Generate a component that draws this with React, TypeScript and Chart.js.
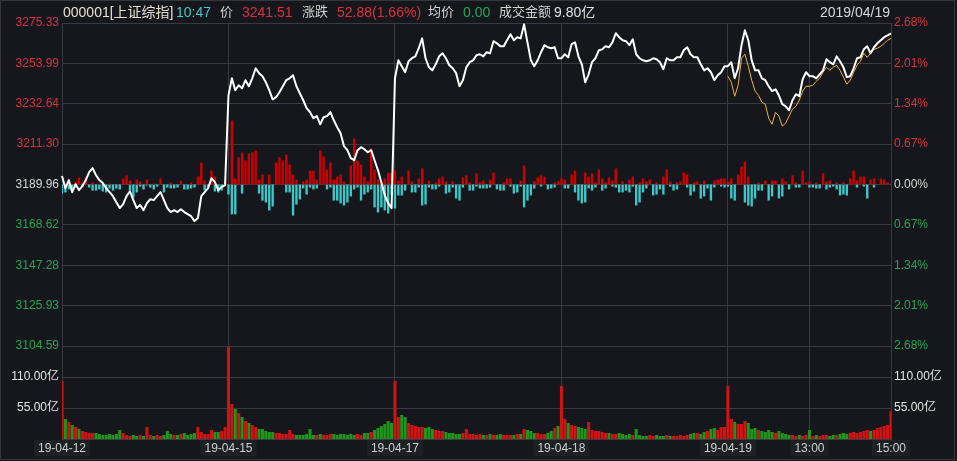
import React, { useEffect, useRef } from "react";
import { Chart, registerables } from "chart.js";

Chart.register(...registerables);

const PREV_CLOSE = 3189.96;
const DAYS = ["19-04-12", "19-04-15", "19-04-17", "19-04-18", "19-04-19"];

const priceTicks = [3104.59, 3125.93, 3147.28, 3168.62, 3189.96, 3211.3, 3232.64, 3253.99, 3275.33];
const volumeTicks = [55, 110];
const VOLUME_MAX = 165;
const xTickIndex = [0, 49, 98, 147, 196, 220, 244];
const xTickLabels = ["19-04-12", "19-04-15", "19-04-17", "19-04-18", "19-04-19", "13:00", "15:00"];

// index price, 5-minute samples (49 per day)
const price0412 = [3194.4, 3188.0, 3192.3, 3185.9, 3190.1, 3187.0, 3189.1, 3192.3, 3196.5, 3198.6, 3194.9, 3192.3, 3190.7, 3188.0, 3185.9, 3183.8, 3180.6, 3177.5, 3179.6, 3183.8, 3186.4, 3181.7, 3177.5, 3179.1, 3176.4, 3180.1, 3182.2, 3181.7, 3183.8, 3185.9, 3181.7, 3177.5, 3175.4, 3176.4, 3175.4, 3176.9, 3175.4, 3174.3, 3173.2, 3170.6, 3172.2, 3183.8, 3185.9, 3188.0, 3193.3, 3191.2, 3187.0, 3188.6, 3189.6];
const price0415 = [3237.1, 3246.1, 3239.8, 3242.4, 3240.8, 3245.1, 3241.9, 3246.1, 3251.4, 3248.8, 3247.2, 3244.0, 3239.8, 3235.0, 3236.1, 3238.7, 3241.9, 3245.1, 3246.1, 3247.7, 3241.9, 3238.2, 3234.5, 3230.3, 3228.2, 3225.0, 3226.1, 3221.8, 3225.5, 3226.1, 3228.2, 3223.9, 3220.2, 3217.1, 3210.2, 3208.1, 3203.9, 3202.8, 3208.1, 3209.7, 3208.6, 3207.0, 3208.1, 3202.8, 3197.5, 3191.2, 3184.3, 3180.1, 3177.5];
const price0417 = [3246.1, 3255.6, 3252.5, 3249.3, 3255.1, 3256.7, 3257.7, 3262.0, 3267.2, 3256.7, 3251.9, 3250.3, 3253.5, 3257.7, 3259.3, 3256.7, 3253.0, 3251.4, 3248.8, 3241.9, 3245.1, 3251.9, 3254.6, 3255.6, 3258.3, 3258.8, 3257.7, 3259.9, 3259.3, 3265.7, 3264.6, 3263.0, 3263.0, 3266.2, 3269.4, 3266.2, 3267.8, 3267.2, 3274.6, 3265.1, 3255.6, 3252.5, 3255.6, 3259.9, 3263.6, 3262.5, 3262.0, 3262.5, 3256.7];
const price0418 = [3256.7, 3258.8, 3257.2, 3264.1, 3265.1, 3257.7, 3253.5, 3244.0, 3248.2, 3254.6, 3256.7, 3260.9, 3261.4, 3263.0, 3262.5, 3265.1, 3269.9, 3267.8, 3266.2, 3265.7, 3263.6, 3266.7, 3258.8, 3256.7, 3255.6, 3255.1, 3255.6, 3256.7, 3256.2, 3254.6, 3250.9, 3256.7, 3255.6, 3255.6, 3257.2, 3257.2, 3260.9, 3262.5, 3258.8, 3257.2, 3257.2, 3253.5, 3250.3, 3251.4, 3249.3, 3245.1, 3247.7, 3249.3, 3252.5];
const price0419 = [3252.5, 3254.6, 3246.1, 3251.4, 3263.6, 3271.5, 3266.2, 3255.6, 3250.3, 3250.3, 3246.1, 3245.1, 3241.9, 3239.3, 3240.3, 3237.1, 3232.4, 3231.3, 3229.2, 3234.5, 3237.7, 3236.6, 3245.6, 3249.3, 3247.2, 3247.2, 3246.1, 3248.2, 3250.3, 3256.2, 3254.6, 3253.5, 3257.7, 3255.1, 3251.9, 3246.7, 3247.2, 3251.4, 3256.7, 3257.2, 3261.4, 3263.0, 3259.3, 3262.5, 3264.6, 3266.2, 3267.8, 3268.8, 3269.9];
// yellow line on the last day
const avg0419 = [3247.2, 3244.0, 3236.6, 3242.4, 3256.7, 3258.8, 3252.5, 3245.1, 3239.3, 3237.1, 3233.4, 3232.4, 3225.0, 3221.8, 3228.2, 3226.1, 3220.8, 3222.4, 3226.1, 3229.8, 3231.3, 3234.5, 3239.3, 3241.9, 3241.9, 3242.4, 3244.5, 3246.1, 3249.3, 3251.9, 3250.3, 3251.9, 3253.0, 3250.3, 3246.7, 3243.0, 3245.1, 3249.3, 3253.0, 3255.1, 3259.3, 3257.2, 3259.3, 3261.4, 3262.0, 3263.0, 3264.6, 3266.2, 3267.2];

// turnover per minute (亿)
const volume0412 = [102.9, 35.5, 30.2, 24.8, 21.3, 17.7, 14.2, 12.4, 10.6, 10.6, 10.6, 8.9, 7.1, 7.1, 8.9, 7.1, 8.9, 16.0, 10.6, 7.1, 5.3, 7.1, 5.3, 7.1, 5.3, 21.3, 7.1, 5.3, 7.1, 5.3, 7.1, 14.2, 8.9, 7.1, 7.1, 8.9, 10.6, 7.1, 8.9, 10.6, 21.3, 12.4, 8.9, 8.9, 16.0, 12.4, 12.4, 14.2, 21.3];
const volume0415 = [163.2, 62.1, 53.2, 46.1, 39.0, 31.9, 28.4, 24.8, 21.3, 17.7, 17.7, 14.2, 12.4, 12.4, 10.6, 10.6, 8.9, 8.9, 16.0, 8.9, 7.1, 7.1, 7.1, 8.9, 17.7, 7.1, 7.1, 8.9, 7.1, 7.1, 8.9, 8.9, 7.1, 8.9, 8.9, 7.1, 8.9, 7.1, 8.9, 7.1, 10.6, 10.6, 12.4, 16.0, 19.5, 23.1, 26.6, 31.9, 28.4];
const volume0417 = [102.9, 39.0, 42.6, 39.0, 28.4, 24.8, 23.1, 21.3, 21.3, 19.5, 21.3, 17.7, 16.0, 14.2, 14.2, 12.4, 10.6, 10.6, 8.9, 8.9, 10.6, 17.7, 8.9, 8.9, 7.1, 8.9, 7.1, 7.1, 8.9, 7.1, 7.1, 8.9, 7.1, 7.1, 7.1, 7.1, 8.9, 8.9, 17.7, 16.0, 14.2, 10.6, 10.6, 8.9, 8.9, 10.6, 14.2, 19.5, 23.1];
const volume0418 = [94.0, 35.5, 28.4, 24.8, 23.1, 21.3, 19.5, 17.7, 30.2, 16.0, 14.2, 14.2, 12.4, 10.6, 10.6, 8.9, 8.9, 10.6, 8.9, 7.1, 8.9, 7.1, 17.7, 7.1, 5.3, 5.3, 7.1, 5.3, 7.1, 5.3, 5.3, 7.1, 5.3, 5.3, 5.3, 7.1, 5.3, 7.1, 8.9, 10.6, 10.6, 8.9, 12.4, 14.2, 17.7, 19.5, 16.0, 21.3, 21.3];
const volume0419 = [94.0, 35.5, 30.2, 26.6, 26.6, 31.9, 28.4, 17.7, 19.5, 16.0, 14.2, 12.4, 16.0, 12.4, 10.6, 14.2, 10.6, 8.9, 7.1, 7.1, 5.3, 7.1, 5.3, 7.1, 16.0, 5.3, 7.1, 5.3, 7.1, 7.1, 5.3, 7.1, 7.1, 8.9, 10.6, 8.9, 10.6, 12.4, 10.6, 12.4, 14.2, 16.0, 14.2, 16.0, 19.5, 21.3, 23.1, 24.8, 49.7];

// buying / selling strength around the previous close (index points)
const buyForce = [
  0, 0, 1.1, 0, 1.6, 3.7, 1.1, 3.7, 0, 1.1, 0, 0.5, 0, 0, 0.5, 0, 0, 0, 3.2, 4.8, 2.1, 0, 2.6, 1.6, 0, 2.6, 0, 0.5, 0, 3.2, 0, 0, 1.1, 0, 0, 2.1, 0, 0, 1.1, 0, 4.2, 11.6, 2.1, 0, 7.4, 4.2, 0, 0, 2.1,
  0, 33.8, 3.2, 14.3, 16.9, 12.7, 16.4, 16.9, 18.0, 2.6, 5.3, 0, 5.3, 0, 11.6, 14.3, 12.7, 15.8, 10.6, 5.3, 2.6, 0, 1.6, 2.6, 7.4, 7.4, 2.6, 18.0, 14.8, 7.9, 11.6, 2.6, 4.2, 5.3, 1.6, 0, 10.0, 24.3, 12.7, 10.6, 4.2, 1.6, 19.0, 7.9, 2.6, 1.6, 3.2, 6.3, 6.3,
  7.4, 2.1, 4.2, 0, 7.4, 1.6, 0, 3.2, 8.5, 0, 2.1, 0, 1.1, 3.2, 4.2, 1.6, 0, 1.6, 0, 0, 3.7, 4.8, 1.1, 0, 5.8, 1.1, 2.1, 0, 2.6, 6.3, 0, 0, 1.1, 3.2, 3.2, 0, 0, 2.1, 10.0, 0, 0, 1.6, 3.7, 4.8, 4.2, 0, 0, 1.1, 1.6,
  3.2, 2.6, 0, 5.3, 7.4, 0, 0, 6.3, 4.2, 5.8, 1.1, 7.9, 3.2, 1.1, 3.7, 2.1, 8.5, 0, 1.6, 0, 2.6, 4.2, 0, 1.1, 3.2, 1.6, 2.6, 0, 1.1, 0, 4.2, 7.9, 1.6, 0, 1.1, 1.6, 6.3, 5.3, 0, 1.1, 1.6, 0, 2.1, 0, 0, 2.1, 2.6, 3.2, 3.2,
  1.6, 3.2, 0, 5.3, 9.5, 12.1, 4.2, 0, 0, 1.1, 0, 2.1, 0, 2.1, 2.1, 0, 3.2, 1.6, 0, 4.8, 1.1, 0, 7.4, 1.1, 1.6, 0, 1.1, 0, 5.8, 1.6, 2.1, 0, 1.1, 0, 1.1, 0, 3.2, 7.4, 2.1, 4.2, 4.2, 0, 2.6, 3.2, 0, 3.2, 2.6, 1.1, 0,
];
const sellForce = [
  4.8, 4.2, 2.6, 2.6, 1.6, 0, 1.1, 0, 1.6, 3.2, 3.2, 2.6, 3.7, 4.2, 2.1, 3.2, 2.1, 2.6, 0, 0, 3.2, 6.9, 4.2, 1.1, 2.6, 0.5, 1.6, 2.6, 1.1, 0, 4.2, 1.6, 2.1, 2.1, 1.6, 0, 2.6, 2.6, 2.1, 1.6, 0, 0, 3.2, 1.6, 0, 3.7, 4.2, 3.2, 0,
  5.3, 15.8, 15.8, 0, 4.8, 0, 0, 0, 0, 4.8, 8.5, 9.5, 13.7, 11.6, 0, 0, 0, 4.2, 4.2, 16.4, 10.6, 7.9, 2.1, 5.3, 1.6, 2.6, 2.1, 0, 0, 2.6, 1.6, 8.5, 8.5, 10.0, 11.1, 9.5, 6.3, 2.6, 1.6, 8.5, 5.3, 4.2, 2.6, 12.1, 14.8, 12.1, 13.7, 15.3, 5.3,
  12.7, 5.8, 5.8, 3.2, 0, 4.2, 4.2, 1.6, 11.1, 10.6, 1.6, 2.6, 2.6, 1.1, 0, 4.8, 4.2, 1.6, 7.4, 8.5, 1.6, 0, 3.2, 3.2, 1.1, 2.1, 2.1, 2.1, 1.6, 0, 2.6, 3.2, 3.2, 0, 1.1, 4.8, 4.2, 1.1, 12.1, 8.5, 5.8, 2.1, 0, 1.1, 0, 2.6, 2.1, 1.6, 0,
  0, 2.1, 2.1, 0, 4.2, 8.5, 10.0, 9.5, 2.1, 3.2, 1.6, 0, 3.2, 2.1, 0, 1.1, 1.6, 4.2, 4.2, 3.2, 4.2, 1.1, 11.1, 9.5, 4.2, 2.1, 0, 5.8, 5.3, 2.6, 5.3, 0, 1.1, 3.2, 2.6, 0, 0, 1.6, 5.8, 3.7, 0, 7.4, 6.3, 2.1, 8.5, 1.6, 0, 1.1, 1.6,
  1.1, 7.4, 8.5, 0, 0, 9.5, 11.1, 11.6, 7.4, 3.2, 3.2, 0, 8.5, 6.3, 0, 7.4, 6.3, 0, 2.6, 0, 1.6, 1.6, 0, 0, 1.6, 1.6, 2.1, 2.1, 0, 2.6, 1.6, 1.1, 2.6, 5.8, 5.3, 5.8, 0, 0, 1.6, 0, 1.1, 7.4, 0, 1.6, 0, 0, 0, 0, 0,
];

const slotTimes = Array.from({ length: 49 }, (_, k) => {
  const m = k <= 24 ? 9 * 60 + 30 + 5 * k : 13 * 60 + 5 * (k - 24);
  return `${Math.floor(m / 60)}:${String(m % 60).padStart(2, "0")}`;
});
const categories = DAYS.flatMap((d) => slotTimes.map((t) => `${d} ${t}`));
const priceLine = [...price0412, ...price0415, ...price0417, ...price0418, ...price0419];
const avgLine = [...Array(196).fill(null), ...avg0419];
const volumeLine = [...volume0412, ...volume0415, ...volume0417, ...volume0418, ...volume0419];

const BG = "#15171c";
const GRID = "#383b41";
const RED = "#d9323f";
const GREEN = "#25a652";
const NEUTRAL = "#d6d6d6";
const FONT = '"Liberation Sans", Arial, "Noto Sans CJK SC", sans-serif';

const tickColor = (v: number) =>
  v > PREV_CLOSE + 0.005 ? RED : v < PREV_CLOSE - 0.005 ? GREEN : NEUTRAL;

export default function App() {
  const ref = useRef<HTMLCanvasElement | null>(null);

  useEffect(() => {
    document.body.style.margin = "0";
    document.body.style.background = BG;
    const canvas = ref.current;
    if (!canvas) return;
    Chart.defaults.font.family = FONT;
    Chart.defaults.font.size = 12;

    const volColors = priceLine.map((p, i) =>
      i === 0 || p >= priceLine[i - 1] ? "#d01414" : "#1e961a"
    );

    const chart = new Chart(canvas, {
      type: "line",
      data: {
        labels: categories,
        datasets: [
          {
            type: "line",
            label: "price",
            data: priceLine,
            yAxisID: "y",
            borderColor: "#ffffff",
            borderWidth: 2,
            pointRadius: 0,
            tension: 0,
            borderJoinStyle: "round",
            order: 0,
          },
          {
            type: "line",
            label: "avg",
            data: avgLine,
            yAxisID: "y",
            borderColor: "#e9b43c",
            borderWidth: 1,
            pointRadius: 0,
            tension: 0,
            order: 1,
          },
          {
            type: "bar",
            label: "buy",
            data: buyForce.map((v) => (v > 0 ? [PREV_CLOSE, PREV_CLOSE + v] : null)),
            yAxisID: "y",
            backgroundColor: "#d00000",
            grouped: false,
            barPercentage: 0.7,
            categoryPercentage: 1,
            order: 2,
          },
          {
            type: "bar",
            label: "sell",
            data: sellForce.map((v) => (v > 0 ? [PREV_CLOSE - v, PREV_CLOSE] : null)),
            yAxisID: "y",
            backgroundColor: "#3cc8c8",
            grouped: false,
            barPercentage: 0.7,
            categoryPercentage: 1,
            order: 3,
          },
          {
            type: "bar",
            label: "volume",
            data: volumeLine,
            yAxisID: "yv",
            backgroundColor: volColors,
            grouped: false,
            barPercentage: 0.9,
            categoryPercentage: 1,
            order: 4,
          },
        ] as any,
      },
      options: {
        animation: false,
        responsive: false,
        events: [],
        layout: { padding: { top: 23, left: 0, right: 0, bottom: 0 } },
        plugins: { legend: { display: false }, tooltip: { enabled: false } },
        scales: {
          x: {
            type: "category",
            offset: false,
            grid: { color: GRID, drawTicks: false, offset: false },
            border: { color: GRID },
            afterBuildTicks: (s: any) => {
              s.ticks = xTickIndex.map((v) => ({ value: v }));
            },
            afterFit: (s: any) => {
              s.height = 22;
            },
            ticks: {
              autoSkip: false,
              maxRotation: 0,
              padding: 2,
              color: "#cfcfcf",
              font: { size: 12 },
              callback: (_v: any, i: number) => xTickLabels[i],
              showLabelBackdrop: true,
              backdropColor: "#1e2025",
              backdropPadding: { x: 4, y: 1 },
            },
          },
          y: {
            type: "linear",
            position: "left",
            stack: "L",
            stackWeight: 323,
            weight: 1,
            min: priceTicks[0],
            max: priceTicks[priceTicks.length - 1],
            afterBuildTicks: (s: any) => {
              s.ticks = priceTicks.map((v) => ({ value: v }));
            },
            afterFit: (s: any) => {
              s.width = 62;
            },
            grid: { color: GRID, drawTicks: false },
            border: { color: GRID },
            ticks: {
              padding: 3,
              font: { size: 12 },
              color: (ctx: any) => tickColor(ctx.tick.value),
              callback: (v: any) => Number(v).toFixed(2),
            },
          },
          yv: {
            type: "linear",
            position: "left",
            stack: "L",
            stackWeight: 93,
            weight: 0,
            min: 0,
            max: VOLUME_MAX,
            afterBuildTicks: (s: any) => {
              s.ticks = volumeTicks.map((v) => ({ value: v }));
            },
            afterFit: (s: any) => {
              s.width = 62;
            },
            grid: { color: GRID, drawTicks: false },
            border: { color: GRID },
            ticks: {
              padding: 3,
              font: { size: 12 },
              color: "#e4e4e4",
              callback: (v: any) => Number(v).toFixed(2) + "亿",
            },
          },
          yp: {
            type: "linear",
            position: "right",
            stack: "R",
            stackWeight: 323,
            weight: 0,
            min: priceTicks[0],
            max: priceTicks[priceTicks.length - 1],
            afterBuildTicks: (s: any) => {
              s.ticks = priceTicks.map((v) => ({ value: v }));
            },
            afterFit: (s: any) => {
              s.width = 66;
            },
            grid: { display: true, drawOnChartArea: false, drawTicks: false, color: GRID },
            border: { color: GRID },
            ticks: {
              padding: 3,
              font: { size: 12 },
              color: (ctx: any) => tickColor(ctx.tick.value),
              callback: (v: any) =>
                Math.abs(((Number(v) - PREV_CLOSE) / PREV_CLOSE) * 100).toFixed(2) + "%",
            },
          },
          yv2: {
            type: "linear",
            position: "right",
            stack: "R",
            stackWeight: 93,
            weight: 1,
            min: 0,
            max: VOLUME_MAX,
            afterBuildTicks: (s: any) => {
              s.ticks = volumeTicks.map((v) => ({ value: v }));
            },
            afterFit: (s: any) => {
              s.width = 66;
            },
            grid: { display: true, drawOnChartArea: false, drawTicks: false, color: GRID },
            border: { color: GRID },
            ticks: {
              padding: 3,
              font: { size: 12 },
              color: "#e4e4e4",
              callback: (v: any) => Number(v).toFixed(2) + "亿",
            },
          },
        } as any,
      },
    });
    return () => chart.destroy();
  }, []);

  const head = (x: number, color: string, text: string, size = 14) => (
    <span
      style={{
        position: "absolute",
        left: x,
        top: 4,
        color,
        fontSize: size,
        lineHeight: "16px",
        whiteSpace: "nowrap",
      }}
    >
      {text}
    </span>
  );

  return (
    <div
      style={{
        position: "relative",
        width: 957,
        height: 461,
        background: BG,
        overflow: "hidden",
        fontFamily: FONT,
      }}
    >
      <canvas
        ref={ref}
        width={957}
        height={461}
        style={{ position: "absolute", left: 0, top: 0, width: 957, height: 461, display: "block" }}
      />
      <div
        style={{
          position: "absolute",
          left: 0,
          top: 0,
          width: 955,
          height: 460,
          border: "1px solid #34373d",
          boxSizing: "border-box",
          pointerEvents: "none",
        }}
      />
      {head(63, "#e6e0d2", "000001[上证综指]")}
      {head(176, "#46c8c8", "10:47")}
      {head(220, "#d2d2d2", "价", 13)}
      {head(242, RED, "3241.51")}
      {head(302, "#d2d2d2", "涨跌", 13)}
      {head(337, RED, "52.88(1.66%)")}
      {head(428, "#d2d2d2", "均价", 13)}
      {head(463, GREEN, "0.00")}
      {head(499, "#d2d2d2", "成交金额", 13)}
      {head(554, "#e0e0e0", "9.80亿")}
      <span
        style={{
          position: "absolute",
          right: 957 - 890,
          top: 4,
          color: "#d8d8d8",
          fontSize: 14,
          lineHeight: "16px",
          whiteSpace: "nowrap",
        }}
      >
        2019/04/19
      </span>
    </div>
  );
}
